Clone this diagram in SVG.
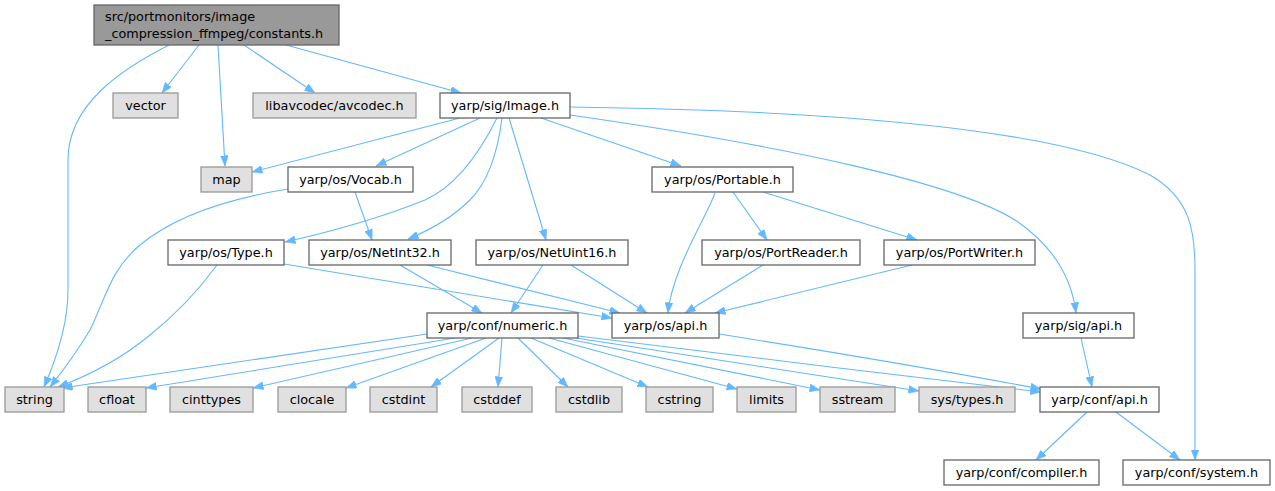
<svg xmlns="http://www.w3.org/2000/svg" width="1275" height="491" viewBox="0 0 1275 491">
<style>
.node rect{fill:#ffffff;stroke:#666666;stroke-width:1.3}
.ext rect{fill:#e0e0e0;stroke:#999999}
.root rect{fill:#999999;stroke:#666666}
.node text{font-family:"DejaVu Sans","Liberation Sans",sans-serif;font-size:12.8px;fill:#000000;text-anchor:middle}
.root text{text-anchor:start}
#edges path{fill:none;stroke:#63b8ff;stroke-width:1.1;marker-end:url(#ah)}
</style>
<defs>
<marker id="ah" markerUnits="userSpaceOnUse" markerWidth="11" markerHeight="8" refX="10.5" refY="4" orient="auto">
<path d="M0,0 L10.5,4 L0,8 z" fill="#63b8ff" stroke="#63b8ff" stroke-width="0.5"/>
</marker>
</defs>
<rect width="1275" height="491" fill="#ffffff"/>
<g id="edges">
<path d="M169,45 C120,70 68,105 68,160 L68,290 C68,320 58,355 44,387"/>
<path d="M199,45 L162,93"/>
<path d="M218,45 L225,166"/>
<path d="M244,45 L315,93"/>
<path d="M286,45 L461,93"/>
<path d="M460,118 L252,172"/>
<path d="M480,118 L376,166"/>
<path d="M497,118 C476,160 452,188 425,200 C380,218 330,232 285,242"/>
<path d="M502,118 C498,150 490,180 470,200 C452,218 430,230 408,239"/>
<path d="M509,118 L546,240"/>
<path d="M541,118 L681,166"/>
<path d="M570,115 C780,145 960,183 1018,222 C1055,248 1072,280 1076,313"/>
<path d="M570,107 C800,110 1050,125 1150,175 C1190,198 1195,230 1195,270 L1195,460"/>
<path d="M288,189 C220,200 170,220 140,245 C110,270 105,300 90,330 C75,355 62,372 50,387"/>
<path d="M355,192 L372,240"/>
<path d="M217,265 C195,295 175,315 150,335 C120,360 90,375 58,387"/>
<path d="M284,264 L612,318"/>
<path d="M400,265 L482,313"/>
<path d="M427,265 L620,313"/>
<path d="M543,265 L511,313"/>
<path d="M571,265 L647,313"/>
<path d="M715,193 C705,220 672,270 668,313"/>
<path d="M733,192 L767,240"/>
<path d="M763,192 L917,240"/>
<path d="M763,265 L685,313"/>
<path d="M912,265 L715,313"/>
<path d="M427,334 L62,388"/>
<path d="M455,338 L146,388"/>
<path d="M472,338 L253,388"/>
<path d="M486,338 L346,388"/>
<path d="M499,338 L431,387"/>
<path d="M502,338 L498,387"/>
<path d="M518,338 L568,387"/>
<path d="M531,338 L648,387"/>
<path d="M549,338 L737,389"/>
<path d="M563,338 L820,390"/>
<path d="M576,338 L919,391"/>
<path d="M578,336 C700,352 900,375 1041,392"/>
<path d="M719,334 C820,350 950,372 1041,389"/>
<path d="M1081,338 L1092,387"/>
<path d="M1087,412 L1036,460"/>
<path d="M1116,412 L1180,460"/>
</g>
<g id="n_root" class="node root"><rect x="94" y="5" width="245" height="40"/><text x="105" y="21">src/portmonitors/image</text><text x="105" y="38">_compression_ffmpeg/constants.h</text></g>
<g id="n_vector" class="node ext"><rect x="113" y="93" width="65" height="25"/><text x="145.5" y="110">vector</text></g>
<g id="n_avcodec" class="node ext"><rect x="253" y="93" width="163" height="25"/><text x="334.5" y="110">libavcodec/avcodec.h</text></g>
<g id="n_image" class="node"><rect x="440" y="93" width="130" height="25"/><text x="505" y="110">yarp/sig/Image.h</text></g>
<g id="n_map" class="node ext"><rect x="201" y="167" width="51" height="25"/><text x="226.5" y="184">map</text></g>
<g id="n_vocab" class="node"><rect x="288" y="167" width="125" height="25"/><text x="350.5" y="184">yarp/os/Vocab.h</text></g>
<g id="n_portable" class="node"><rect x="652" y="167" width="141" height="25"/><text x="722.5" y="184">yarp/os/Portable.h</text></g>
<g id="n_type" class="node"><rect x="168" y="240" width="116" height="25"/><text x="226" y="257">yarp/os/Type.h</text></g>
<g id="n_netint32" class="node"><rect x="309" y="240" width="142" height="25"/><text x="380" y="257">yarp/os/NetInt32.h</text></g>
<g id="n_netuint16" class="node"><rect x="476" y="240" width="152" height="25"/><text x="552" y="257">yarp/os/NetUint16.h</text></g>
<g id="n_portreader" class="node"><rect x="702" y="240" width="158" height="25"/><text x="781" y="257">yarp/os/PortReader.h</text></g>
<g id="n_portwriter" class="node"><rect x="884" y="240" width="151" height="25"/><text x="959.5" y="257">yarp/os/PortWriter.h</text></g>
<g id="n_numeric" class="node"><rect x="427" y="313" width="151" height="25"/><text x="502.5" y="330">yarp/conf/numeric.h</text></g>
<g id="n_osapi" class="node"><rect x="612" y="313" width="107" height="25"/><text x="665.5" y="330">yarp/os/api.h</text></g>
<g id="n_sigapi" class="node"><rect x="1023" y="313" width="111" height="25"/><text x="1078.5" y="330">yarp/sig/api.h</text></g>
<g id="n_string" class="node ext"><rect x="5" y="387" width="59" height="25"/><text x="34.5" y="404">string</text></g>
<g id="n_cfloat" class="node ext"><rect x="88" y="387" width="58" height="25"/><text x="117" y="404">cfloat</text></g>
<g id="n_cinttypes" class="node ext"><rect x="170" y="387" width="83" height="25"/><text x="211.5" y="404">cinttypes</text></g>
<g id="n_clocale" class="node ext"><rect x="278" y="387" width="68" height="25"/><text x="312" y="404">clocale</text></g>
<g id="n_cstdint" class="node ext"><rect x="370" y="387" width="67" height="25"/><text x="403.5" y="404">cstdint</text></g>
<g id="n_cstddef" class="node ext"><rect x="462" y="387" width="70" height="25"/><text x="497" y="404">cstddef</text></g>
<g id="n_cstdlib" class="node ext"><rect x="556" y="387" width="66" height="25"/><text x="589" y="404">cstdlib</text></g>
<g id="n_cstring" class="node ext"><rect x="646" y="387" width="67" height="25"/><text x="679.5" y="404">cstring</text></g>
<g id="n_limits" class="node ext"><rect x="737" y="387" width="59" height="25"/><text x="766.5" y="404">limits</text></g>
<g id="n_sstream" class="node ext"><rect x="820" y="387" width="75" height="25"/><text x="857.5" y="404">sstream</text></g>
<g id="n_systypes" class="node ext"><rect x="919" y="387" width="96" height="25"/><text x="967" y="404">sys/types.h</text></g>
<g id="n_confapi" class="node"><rect x="1040" y="387" width="119" height="25"/><text x="1099.5" y="404">yarp/conf/api.h</text></g>
<g id="n_compiler" class="node"><rect x="944" y="460" width="155" height="25"/><text x="1021.5" y="477">yarp/conf/compiler.h</text></g>
<g id="n_system" class="node"><rect x="1123" y="460" width="147" height="25"/><text x="1196.5" y="477">yarp/conf/system.h</text></g>
</svg>
